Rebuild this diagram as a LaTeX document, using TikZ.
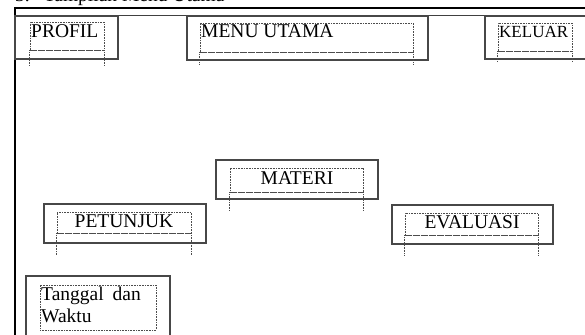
\documentclass[tikz,border=0pt]{standalone}
\usepackage{fontspec}
\setmainfont{Liberation Serif}
\usetikzlibrary{positioning}

\begin{document}
\begin{tikzpicture}[
                x=1pt, y=-1pt,
                menubox/.style={draw=black!72, line width=1.3pt, inner sep=0pt},
                field/.style={draw=black!70, dash pattern=on 0.8pt off 0.8pt, line width=0.8pt, inner sep=0pt},
                tail/.style={draw=black!70, dash pattern=on 0.8pt off 0.8pt, line width=0.8pt},
                menutext/.style={inner sep=0pt, font=\fontsize{19.5}{22}\selectfont}
            ]
                \useasboundingbox (0,0) rectangle (585,334);

                % judul dan bingkai layar
                \node[menutext, anchor=base west] (judul) at (15,2) {3.\hspace{14pt}Tampilan Menu Utama};
                \coordinate (frameA) at (15,340);
                \coordinate (frameB) at (15,8);
                \coordinate (frameC) at (590,8);
                \coordinate (garisA) at (15,16);
                \coordinate (garisB) at (590,16);
                \draw[line width=2.6pt] (frameA) -- (frameB) -- (frameC);
                \draw[line width=1pt, black!75] (garisA) -- (garisB);

                % kotak menu
                \node[menubox, minimum width=103, minimum height=43] (profil) at (66.5,37.5) {};
                \node[menubox, minimum width=241, minimum height=44] (menu) at (307.5,38) {};
                \node[menubox, minimum width=115, minimum height=43] (keluar) at (542.5,37.5) {};
                \node[menubox, minimum width=162, minimum height=39] (materi) at (297,179.5) {};
                \node[menubox, minimum width=162, minimum height=39] (petunjuk) at (125,223.5) {};
                \node[menubox, minimum width=161, minimum height=39] (evaluasi) at (472.5,224.5) {};
                \node[menubox, minimum width=144, minimum height=69] (tanggal) at (98,310.5) {};

                % kolom teks
                \node[field, minimum width=74, minimum height=28] (profilF) at (67,36) {};
                \node[field, minimum width=213, minimum height=29] (menuF) at (306.5,37.5) {};
                \node[field, minimum width=74, minimum height=28] (keluarF) at (535,37) {};
                \node[field, minimum width=133, minimum height=24] (materiF) at (296.5,180) {};
                \node[field, minimum width=134, minimum height=21] (petunjukF) at (124,222.5) {};
                \node[field, minimum width=133, minimum height=22] (evaluasiF) at (471.5,224) {};
                \node[field, minimum width=116, minimum height=45] (tanggalF) at (98,307.5) {};

                \foreach \f/\d in {profilF/15, menuF/12, keluarF/10, materiF/19, petunjukF/21, evaluasiF/20} {
                    \draw[tail] (\f.south west) -- ++(0,\d);
                    \draw[tail] (\f.south east) -- ++(0,\d);
                    \draw[tail, line width=1.5pt] (\f.south west) -- (\f.south east);
                }

                % label
                \node[menutext, anchor=base west] (profilT) at (31,38) {PROFIL};
                \node[menutext, anchor=base west] (menuT) at (201,38) {MENU UTAMA};
                \node[menutext, anchor=base west, font=\fontsize{17}{20}\selectfont] (keluarT) at (499,38) {KELUAR};
                \node[menutext, anchor=base] (materiT) at (297,184) {MATERI};
                \node[menutext, anchor=base] (petunjukT) at (124,227) {PETUNJUK};
                \node[menutext, anchor=base] (evaluasiT) at (472,228) {EVALUASI};
                \node[menutext, anchor=base west] (tanggalT) at (41,300) {Tanggal\hspace{9pt}dan};
                \node[menutext, anchor=base west] (waktuT) at (41,322) {Waktu};
            \end{tikzpicture}
\end{document}
